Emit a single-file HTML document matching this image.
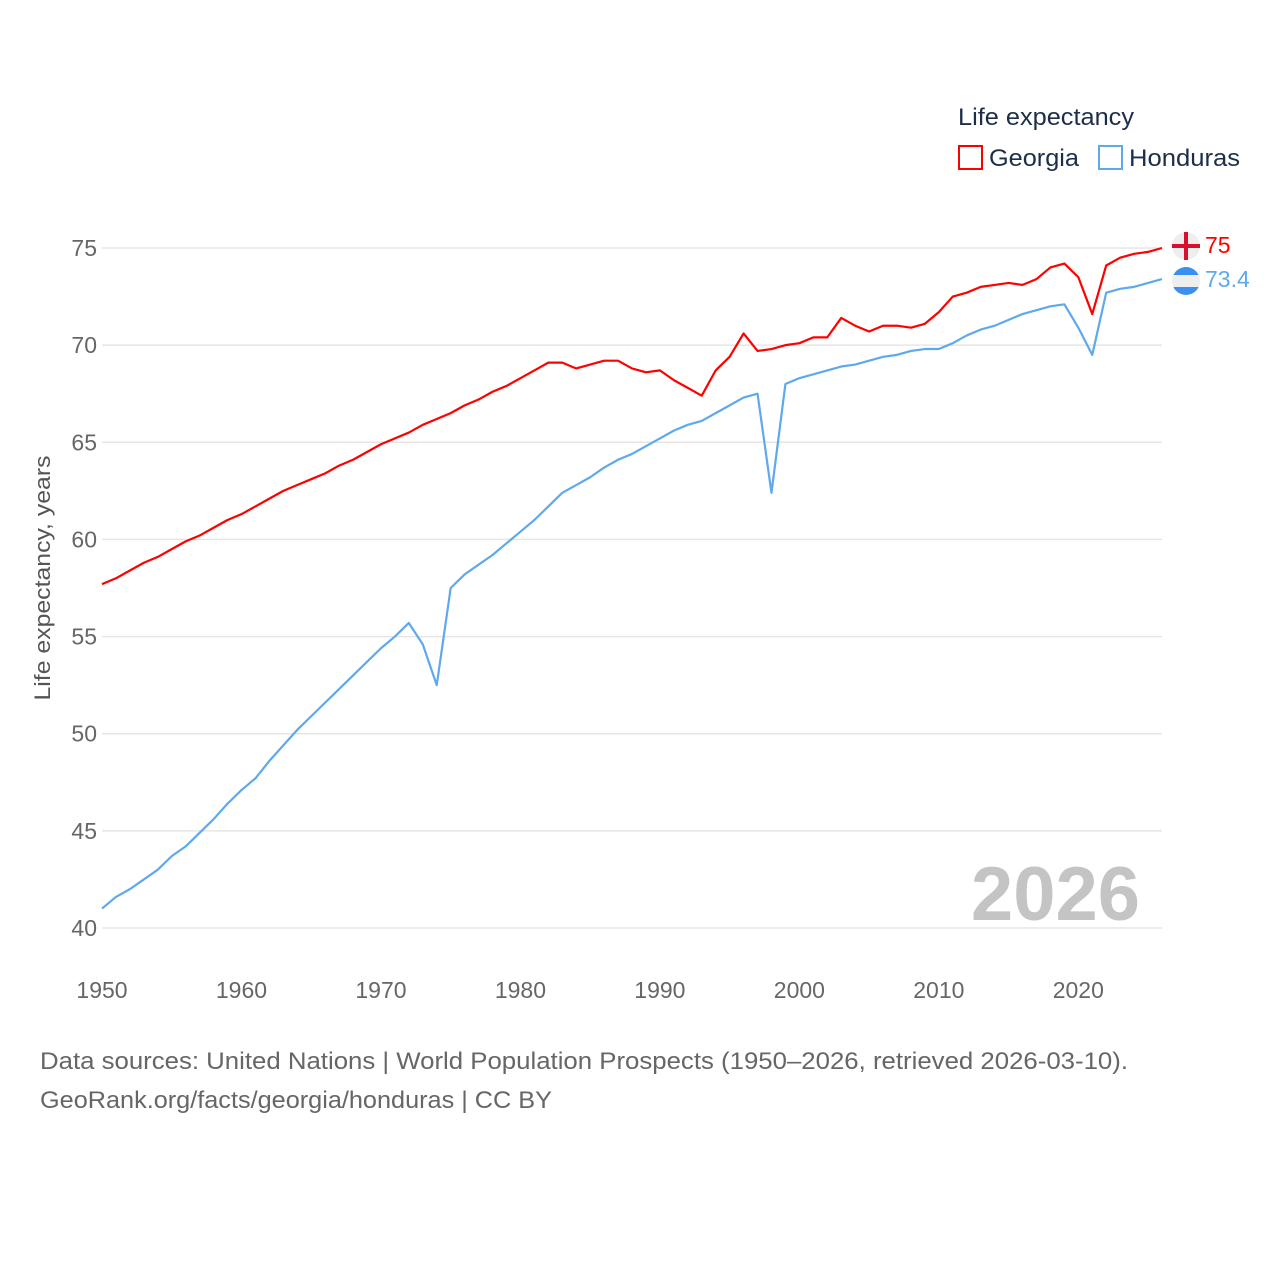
<!DOCTYPE html>
<html><head><meta charset="utf-8"><style>
body{margin:0;background:#fff;}
svg text{font-family:"Liberation Sans",sans-serif;}
</style></head><body>
<svg id="chart" width="1280" height="1280" xmlns="http://www.w3.org/2000/svg">
<rect width="1280" height="1280" fill="#fff"/>
<g id="grid"></g>
<g id="yticks"></g>
<g id="xticks"></g>
<text x="50" y="578" transform="rotate(-90 50 578)" text-anchor="middle" font-size="22" fill="#555" textLength="245" lengthAdjust="spacingAndGlyphs">Life expectancy, years</text>
<text x="1140" y="920" text-anchor="end" font-size="76" font-weight="bold" fill="#c4c4c4">2026</text>
<g id="lines"></g>
<g>
<text x="958" y="125" font-size="24" fill="#1d2e4a" textLength="176" lengthAdjust="spacingAndGlyphs">Life expectancy</text>
<g><rect x="959" y="146" width="23" height="23" fill="none" stroke="#f00" stroke-width="2"/><text x="989" y="166" font-size="24" fill="#1d2e4a" textLength="90" lengthAdjust="spacingAndGlyphs">Georgia</text></g>
<g><rect x="1099" y="146" width="23" height="23" fill="none" stroke="#5ea9ee" stroke-width="2"/><text x="1129" y="166" font-size="24" fill="#1d2e4a" textLength="111" lengthAdjust="spacingAndGlyphs">Honduras</text></g>
</g>
<g>
<circle cx="1186" cy="246" r="14" fill="#eee"/>
<rect x="1172" y="244" width="28" height="4" fill="#d8102b"/><rect x="1184" y="232" width="4" height="28" fill="#d8102b"/>
<text x="1205" y="253" font-size="23" fill="#f00">75</text>
</g>
<g>
<clipPath id="hc"><circle cx="1186" cy="281" r="14"/></clipPath>
<g clip-path="url(#hc)"><rect x="1170" y="266" width="32" height="30" fill="#eee"/><rect x="1170" y="266" width="32" height="9" fill="#3a8ff0"/><rect x="1170" y="287" width="32" height="9" fill="#3a8ff0"/></g>
<text x="1205" y="287" font-size="23" fill="#5ea9ee">73.4</text>
</g>
<text x="40" y="1069" font-size="24" fill="#666" textLength="1088" lengthAdjust="spacingAndGlyphs">Data sources: United Nations | World Population Prospects (1950–2026, retrieved 2026-03-10).</text>
<text x="40" y="1108" font-size="24" fill="#666" textLength="512" lengthAdjust="spacingAndGlyphs">GeoRank.org/facts/georgia/honduras | CC BY</text>
</svg>
<script>
const years=[];for(let y=1950;y<=2026;y++)years.push(y);
const georgia=[57.7,58.0,58.4,58.8,59.1,59.5,59.9,60.2,60.6,61.0,61.3,61.7,62.1,62.5,62.8,63.1,63.4,63.8,64.1,64.5,64.9,65.2,65.5,65.9,66.2,66.5,66.9,67.2,67.6,67.9,68.3,68.7,69.1,69.1,68.8,69.0,69.2,69.2,68.8,68.6,68.7,68.2,67.8,67.4,68.7,69.4,70.6,69.7,69.8,70.0,70.1,70.4,70.4,71.4,71.0,70.7,71.0,71.0,70.9,71.1,71.7,72.5,72.7,73.0,73.1,73.2,73.1,73.4,74.0,74.2,73.5,71.6,74.1,74.5,74.7,74.8,75.0];
const honduras=[41.0,41.6,42.0,42.5,43.0,43.7,44.2,44.9,45.6,46.4,47.1,47.7,48.6,49.4,50.2,50.9,51.6,52.3,53.0,53.7,54.4,55.0,55.7,54.6,52.5,57.5,58.2,58.7,59.2,59.8,60.4,61.0,61.7,62.4,62.8,63.2,63.7,64.1,64.4,64.8,65.2,65.6,65.9,66.1,66.5,66.9,67.3,67.5,62.4,68.0,68.3,68.5,68.7,68.9,69.0,69.2,69.4,69.5,69.7,69.8,69.8,70.1,70.5,70.8,71.0,71.3,71.6,71.8,72.0,72.1,70.9,69.5,72.7,72.9,73.0,73.2,73.4];
const yTicks=[40,45,50,55,60,65,70,75];
const xTicks=[1950,1960,1970,1980,1990,2000,2010,2020];
const NS="http://www.w3.org/2000/svg";
const X=v=>102+(v-1950)*(1162-102)/76;
const Y=v=>928-(v-40)*(928-248)/35;
const grid=document.getElementById('grid'),yt=document.getElementById('yticks'),xt=document.getElementById('xticks'),lines=document.getElementById('lines');
yTicks.forEach(t=>{
 const l=document.createElementNS(NS,'line');
 l.setAttribute('x1',102);l.setAttribute('x2',1162);l.setAttribute('y1',Y(t));l.setAttribute('y2',Y(t));
 l.setAttribute('stroke','#e6e6e6');l.setAttribute('stroke-width','1.5');
 
 
 grid.appendChild(l);
 const tx=document.createElementNS(NS,'text');
 tx.setAttribute('x',97);tx.setAttribute('y',Y(t)+8);tx.setAttribute('text-anchor','end');
 tx.setAttribute('font-size','23');tx.setAttribute('fill','#666');tx.textContent=t;
 
 
 yt.appendChild(tx);
});
xTicks.forEach(t=>{
 const tx=document.createElementNS(NS,'text');
 tx.setAttribute('x',X(t));tx.setAttribute('y',998);tx.setAttribute('text-anchor','middle');
 tx.setAttribute('font-size','23');tx.setAttribute('fill','#666');tx.textContent=t;
 
 
 xt.appendChild(tx);
});
function draw(vals,color,name){
 const p=document.createElementNS(NS,'polyline');
 p.setAttribute('points',vals.map((v,i)=>X(years[i])+','+Y(v)).join(' '));
 p.setAttribute('fill','none');p.setAttribute('stroke',color);p.setAttribute('stroke-width','2.2');
 p.setAttribute('stroke-linejoin','round');
 
 
 lines.appendChild(p);
}
draw(honduras,'#5ea9ee','honduras-line');
draw(georgia,'#ff0000','georgia-line');
</script>
</body></html>
